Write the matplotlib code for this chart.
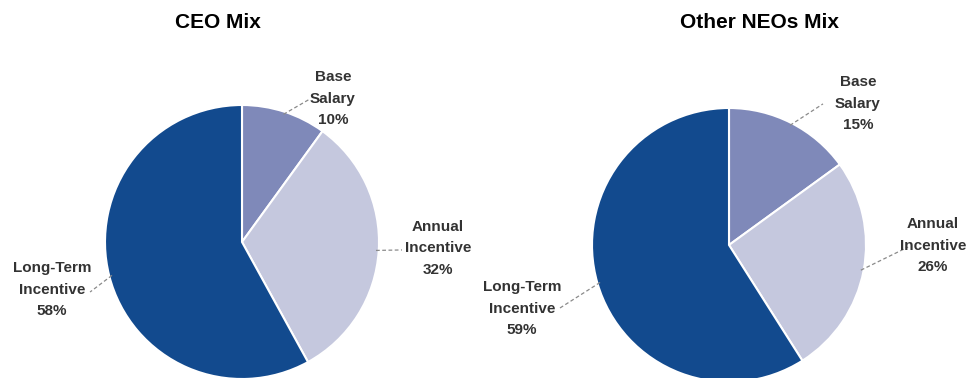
import numpy as np
import matplotlib
matplotlib.use("Agg")
import matplotlib.pyplot as plt

plt.rcParams['font.family'] = ['Liberation Sans', 'DejaVu Sans']

categories = ["Base\nSalary", "Annual\nIncentive", "Long-Term\nIncentive"]
ceo_values = [10, 32, 58]
neo_values = [15, 26, 59]
titles = ["CEO Mix", "Other NEOs Mix"]
colors = ["#7f89b9", "#c5c8de", "#124a8e"]

fig = plt.figure(figsize=(9.66, 3.78), dpi=100)
W, H = 966, 378
R = 137

def pie_axes(cx, cy):
    return fig.add_axes([(cx - R) / W, 1 - (cy + R) / H, 2 * R / W, 2 * R / H])

# label centers and leader outer ends (in pie-radius units)
layouts = [
    dict(center=(242, 242),
         labels=[(0.664, 1.044), (1.43, -0.044), (-1.387, -0.35)],
         ends=[(0.496, 1.044), (1.168, -0.058), (-1.109, -0.365)]),
    dict(center=(729, 245),
         labels=[(0.94, 1.03), (1.49, -0.007), (-1.51, -0.467)],
         ends=[(0.686, 1.03), (1.307, -0.015), (-1.234, -0.46)]),
]

title_x = [218, 759]
for vals, lay, title, tx in zip([ceo_values, neo_values], layouts, titles, title_x):
    ax = pie_axes(*lay["center"])
    wedges, _ = ax.pie(vals, colors=colors, startangle=90, counterclock=False,
                       radius=1, wedgeprops=dict(edgecolor="white", linewidth=1.5))
    ax.set_xlim(-1, 1)
    ax.set_ylim(-1, 1)
    ax.set_aspect("equal")
    ax.axis("off")
    for w, cat, v, lab, end in zip(wedges, categories, vals, lay["labels"], lay["ends"]):
        ang = np.deg2rad((w.theta1 + w.theta2) / 2)
        px, py = 0.98 * np.cos(ang), 0.98 * np.sin(ang)
        ax.plot([px, end[0]], [py, end[1]], ls=(0, (3, 2)), color="#8a8a8a",
                lw=0.9, clip_on=False)
        ax.text(lab[0], lab[1], f"{cat}\n{v}%", ha="center", va="center",
                fontsize=11, fontweight="bold", color="#333333",
                linespacing=1.68, clip_on=False)
    fig.text(tx / W, 1 - 23 / H, title, ha="center", va="center",
             fontsize=15, fontweight="bold", color="black")

fig.savefig("out.png", dpi=100)
